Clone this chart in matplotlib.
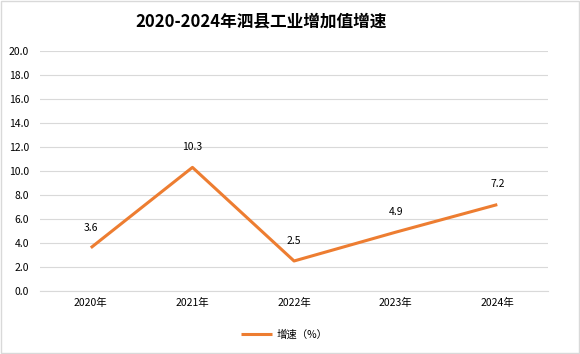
import matplotlib.pyplot as plt

plt.rcParams['font.family'] = ['Noto Sans CJK SC', 'DejaVu Sans']

years = ['2020年', '2021年', '2022年', '2023年', '2024年']
growth = [3.6, 10.3, 2.5, 4.9, 7.2]
y_ticks = [0, 2, 4, 6, 8, 10, 12, 14, 16, 18, 20]

fig = plt.figure(figsize=(5.8, 3.54), dpi=100)
ax = fig.add_axes([0.069, 0.178, 0.876, 0.678])

x = range(len(years))
line, = ax.plot(x, growth, color='#ED7D31', linewidth=2.2, label='增速（%）', solid_capstyle='butt')

for xi, v in zip(x, growth):
    ax.annotate(f'{v:.1f}', (xi, v), xytext=(0, 11), textcoords='offset points',
                ha='center', va='bottom', fontsize=7.5, color='#000000')

ax.set_xlim(-0.5, len(years) - 0.5)
ax.set_ylim(0, 20)
ax.set_yticks(y_ticks)
ax.set_yticklabels([f'{t:.1f}' for t in y_ticks])
ax.set_xticks(list(x))
ax.set_xticklabels(years)
ax.tick_params(axis='both', length=0, labelsize=7.5, colors='#000000')
ax.tick_params(axis='y', pad=8)
ax.tick_params(axis='x', pad=5)
ax.grid(axis='y', color='#D9D9D9', linewidth=0.8)
ax.set_axisbelow(True)
for s in ['top', 'right', 'left']:
    ax.spines[s].set_visible(False)
ax.spines['bottom'].set_color('#D9D9D9')
ax.spines['bottom'].set_linewidth(0.8)

fig.text(0.45, 0.938, '2020-2024年泗县工业增加值增速', ha='center', va='center',
         fontsize=12, fontweight='bold')

fig.legend(handles=[line], loc='center', bbox_to_anchor=(0.49, 0.055), frameon=False,
           fontsize=7.5, handlelength=3, handletextpad=0.4)

# light outer border
fig.patches.append(plt.Rectangle((0.002, 0.003), 0.996, 0.994, transform=fig.transFigure,
                                 fill=False, edgecolor='#D9D9D9', linewidth=1))

fig.savefig('out.png', dpi=100)
